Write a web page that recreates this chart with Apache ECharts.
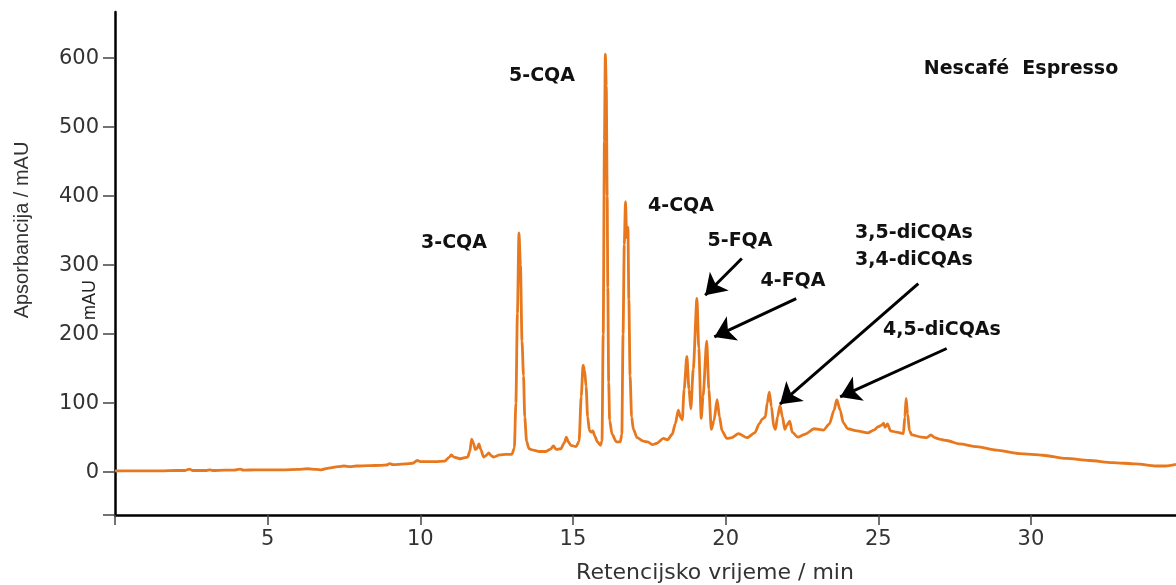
<!DOCTYPE html>
<html>
<head>
<meta charset="utf-8">
<script src="https://cdn.jsdelivr.net/npm/echarts@6/dist/echarts.min.js"></script>
<style>html,body{margin:0;padding:0;background:#fff}#c{width:1176px;height:585px}</style>
</head>
<body>
<div id="c"></div>
<script>
// Retention time (min)
var times = [0.0,0.5,1.0,1.5,2.0,2.3,2.43,2.55,3.0,3.1,3.2,3.6,3.9,4.1,4.2,4.6,5.0,5.5,6.0,6.3,6.6,6.75,7.0,7.3,7.5,7.7,7.9,8.3,8.7,8.9,9.0,9.1,9.5,9.75,9.9,10.0,10.5,10.8,10.95,11.01,11.1,11.3,11.55,11.62,11.68,11.74,11.8,11.85,11.92,11.98,12.07,12.15,12.24,12.32,12.4,12.6,12.8,13.0,13.08,13.13,13.18,13.23,13.28,13.33,13.38,13.42,13.48,13.56,13.7,13.9,14.1,14.25,14.36,14.45,14.6,14.72,14.78,14.85,14.93,15.1,15.2,15.27,15.33,15.38,15.43,15.48,15.54,15.6,15.65,15.72,15.8,15.9,15.95,15.99,16.03,16.06,16.09,16.12,16.14,16.17,16.2,16.28,16.42,16.55,16.6,16.64,16.68,16.72,16.76,16.8,16.83,16.87,16.92,16.98,17.1,17.3,17.45,17.6,17.75,17.96,18.1,18.25,18.35,18.45,18.52,18.58,18.64,18.73,18.8,18.86,18.94,19.06,19.12,19.2,19.26,19.38,19.45,19.53,19.62,19.72,19.8,19.88,20.04,20.2,20.42,20.7,20.95,21.1,21.2,21.3,21.36,21.43,21.5,21.58,21.63,21.7,21.78,21.86,21.94,22.0,22.1,22.18,22.36,22.6,22.9,23.2,23.4,23.55,23.64,23.75,23.85,24.0,24.3,24.66,24.85,25.0,25.1,25.17,25.22,25.3,25.4,25.6,25.82,25.87,25.91,25.96,26.02,26.1,26.4,26.59,26.72,26.85,27.0,27.24,27.66,28.22,28.87,29.63,30.39,31.16,31.9,32.67,33.43,34.08,34.4,34.75];
// Absorbance (mAU)
var absorbance = [2,2,2,2,2.5,2.5,4.5,2.5,2.5,3.5,2.5,3,3,4.5,3,3.5,3.5,3.5,4,5,4,3.5,6,8,9,8,9,9.5,10,10.5,12.5,11,12,13,17,15.5,15.5,16,22,25,22,19.5,22,30,48,42,33,34,41,33,22,24,28,24,22,25,26,26,35,100,230,347,300,190,140,80,45,34,32,30,30,33,38,33,34,43,51,44,39,37,45,110,155,148,124,80,60,58,60,52,44,39,45,200,480,606,560,400,268,130,75,55,44,44,55,200,330,392,340,355,250,140,80,62,50,45,44,40,42,49,47,55,70,90,80,76,120,168,120,92,150,252,180,78,110,190,120,62,75,105,80,60,49,50,56,50,57,70,77,80,100,116,95,65,62,80,97,80,62,68,74,58,51,55,63,61,70,90,105,90,72,63,60,57,61,66,68,71,65,70,60,58,56,80,107,85,60,54,51,50,54,50,48,46,41,37,32,27,24.6,20,17,14,12,9,9,11.5];
var xTickValues = [0,5,10,15,20,25,30];
var xLabelValues = [5,10,15,20,25,30];
var yLabelValues = [0,100,200,300,400,500,600];
var yTickValues = [-62,0,100,200,300,400,500,600];

var seriesData = times.map(function(t,i){return [t, absorbance[i]];});

var chart = echarts.init(document.getElementById('c'), null, {renderer:'canvas'});
var bold = {fontFamily:'DejaVu Sans', fontWeight:'bold', fontSize:19, fill:'#111'};
function lbl(text,x,y){return {type:'text', x:x, y:y, style:Object.assign({text:text, align:'center', verticalAlign:'middle'}, bold), z:10};}
chart.setOption({
  animation:false,
  backgroundColor:'#fff',
  grid:{left:115, right:0, top:12, bottom:70, containLabel:false},
  xAxis:{
    type:'value', min:0, max:34.75,
    axisLine:{show:true, onZero:false, lineStyle:{color:'#000', width:2.5}},
    axisTick:{show:true, length:10, lineStyle:{color:'#444', width:1.5}, customValues:xTickValues},
    axisLabel:{customValues:xLabelValues, color:'#333', fontFamily:'DejaVu Sans', fontSize:21, margin:14},
    splitLine:{show:false}
  },
  yAxis:{
    type:'value', min:-62, max:667,
    axisLine:{show:true, onZero:false, lineStyle:{color:'#000', width:2.5}},
    axisTick:{show:true, length:12, lineStyle:{color:'#444', width:1.5}, customValues:yTickValues},
    axisLabel:{customValues:yLabelValues, color:'#333', fontFamily:'DejaVu Sans', fontSize:21, margin:16},
    splitLine:{show:false}
  },
  series:[{
    type:'line', data:seriesData, showSymbol:false, symbol:'none',
    smooth:0.25, smoothMonotone:'x',
    lineStyle:{color:'#E8781E', width:2.8},
    markLine:{
      silent:true, symbol:['none','arrow'], symbolSize:20,
      label:{show:false},
      lineStyle:{color:'#000', width:3, type:'solid'},
      emphasis:{disabled:true},
      data:[
        [{coord:[20.53,309.7]},{coord:[19.33,256.5]}],
        [{coord:[22.31,251.7]},{coord:[19.63,196.1]}],
        [{coord:[26.31,273.5]},{coord:[21.78,98.6]}],
        [{coord:[27.24,179.3]},{coord:[23.75,109.1]}]
      ]
    }
  }],
  graphic:[
    lbl('5-CQA',542,76),
    lbl('3-CQA',454,243),
    lbl('4-CQA',681,206),
    lbl('5-FQA',740,241),
    lbl('4-FQA',793,281),
    lbl('3,5-diCQAs',914,233),
    lbl('3,4-diCQAs',914,260),
    lbl('4,5-diCQAs',942,330),
    lbl('Nescafé  Espresso',1021,69),
    {type:'text', x:715, y:573, style:{text:'Retencijsko vrijeme / min', fontFamily:'DejaVu Sans', fontSize:22, fill:'#333', align:'center', verticalAlign:'middle'}},
    {type:'text', x:22, y:230, rotation:Math.PI/2, style:{text:'Apsorbancija / mAU', fontFamily:'Liberation Sans', fontSize:20, fill:'#333', align:'center', verticalAlign:'middle'}},
    {type:'text', x:90, y:300, rotation:Math.PI/2, style:{text:'mAU', fontFamily:'Liberation Sans', fontSize:18, fill:'#222', align:'center', verticalAlign:'middle'}}
  ]
});
</script>
</body>
</html>
